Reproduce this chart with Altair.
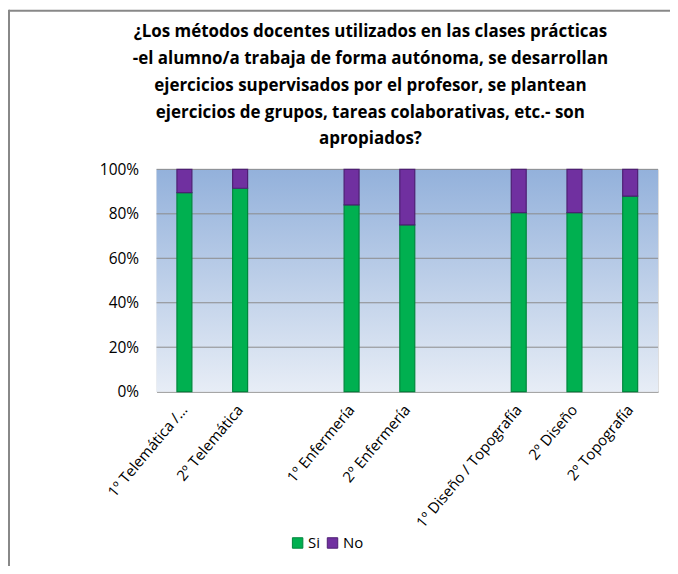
import altair as alt
import pandas as pd

categories = ["1º Telemática /…", "2º Telemática", "gap1", "1º Enfermería", "2º Enfermería",
              "gap2", "1º Diseño / Topografía", "2º Diseño", "2º Topografía"]
bar_categories = ["1º Telemática /…", "2º Telemática", "1º Enfermería", "2º Enfermería",
                  "1º Diseño / Topografía", "2º Diseño", "2º Topografía"]
si_values = [89.5, 91.5, 84.0, 75.0, 80.5, 80.5, 88.0]
no_values = [10.5, 8.5, 16.0, 25.0, 19.5, 19.5, 12.0]
series = ["Si", "No"]
series_colors = ["#00B050", "#7030A0"]
series_strokes = ["#00873C", "#4E1F73"]
y_ticks = [0.2, 0.4, 0.6, 0.8, 1.0]
y_labels = [0, 0.2, 0.4, 0.6, 0.8, 1.0]
title_lines = [
    "¿Los métodos docentes utilizados en las clases prácticas",
    "-el alumno/a trabaja de forma autónoma, se desarrollan",
    "ejercicios supervisados por el profesor, se plantean",
    "ejercicios de grupos, tareas colaborativas, etc.- son",
    "apropiados?",
]

rows = []
for c, s, n in zip(bar_categories, si_values, no_values):
    rows.append({"cat": c, "serie": "Si", "val": s / 100, "ord": 0})
    rows.append({"cat": c, "serie": "No", "val": n / 100, "ord": 1})
df = pd.DataFrame(rows)

FONT = "Open Sans"
W, H = 503, 223

x_enc = alt.X("cat:N", scale=alt.Scale(domain=categories, paddingInner=0, paddingOuter=0),
              sort=categories,
              axis=alt.Axis(title=None, labelAngle=-50, labelExpr="indexof(datum.label,'gap')==0 ? '' : datum.label",
                            labelFont=FONT, labelFontSize=15, labelColor="#000000",
                            ticks=False, labelPadding=15, domainColor="#868686", domainWidth=1,
                            labelLimit=300, grid=False))
y_scale = alt.Scale(domain=[0, 1], nice=False)
y_axis = alt.Axis(title=None, format="%", values=y_labels,
                  labelFont=FONT, labelFontSize=15.5, labelColor="#000000",
                  ticks=False, domain=False, grid=False, labelPadding=18)

background = alt.Chart(alt.Data(values=[{"a": 1}])).mark_rect(
    color=alt.Gradient(gradient="linear", x1=0, x2=0, y1=0, y2=1,
                       stops=[alt.GradientStop(offset=0, color="#93B1DB"),
                              alt.GradientStop(offset=1, color="#E7EDF6")])
).encode(x=alt.value(0), x2=alt.value("width"), y=alt.value(0), y2=alt.value("height"))

grid = alt.Chart(pd.DataFrame({"t": y_ticks})).mark_rule(color="#8C8C8C", strokeWidth=1).encode(
    y=alt.Y("t:Q", scale=y_scale, axis=y_axis)
)

bars = alt.Chart(df).mark_bar(size=15, strokeWidth=1.2).encode(
    x=x_enc,
    y=alt.Y("val:Q", stack="zero", scale=y_scale, axis=y_axis),
    color=alt.Color("serie:N", scale=alt.Scale(domain=series, range=series_colors),
                    legend=alt.Legend(title=None, orient="none", legendX=134, legendY=367,
                                      direction="horizontal", symbolType="square", symbolSize=110,
                                      symbolStrokeWidth=1, labelFont=FONT, labelFontSize=15,
                                      labelColor="#000000", columnPadding=4, labelOffset=3)),
    stroke=alt.Stroke("serie:N", scale=alt.Scale(domain=series, range=series_strokes), legend=None),
    order=alt.Order("ord:Q"),
)

border_left = alt.Chart(alt.Data(values=[{"a": 1}])).mark_rule(color="#888888", strokeWidth=2).encode(
    x=alt.value(-148), y=alt.value(-160), y2=alt.value(420)
)
border_top = alt.Chart(alt.Data(values=[{"a": 1}])).mark_rule(color="#888888", strokeWidth=2).encode(
    x=alt.value(-148), x2=alt.value(520), y=alt.value(-159)
)

chart = alt.layer(background, grid, bars, border_left, border_top).properties(
    width=W, height=H,
    padding={"left": 149, "top": 161, "right": 12, "bottom": 174},
    autosize=alt.AutoSizeParams(type="none"),
    title=alt.TitleParams(text=title_lines, font=FONT, fontSize=17, fontWeight="bold",
                          color="#000000", anchor="middle", frame="group", lineHeight=26.9,
                          dx=-37, offset=-140),
).configure_view(stroke=None).configure(background="white")

chart.save("out.html", embed_options={"renderer": "svg", "actions": False})
